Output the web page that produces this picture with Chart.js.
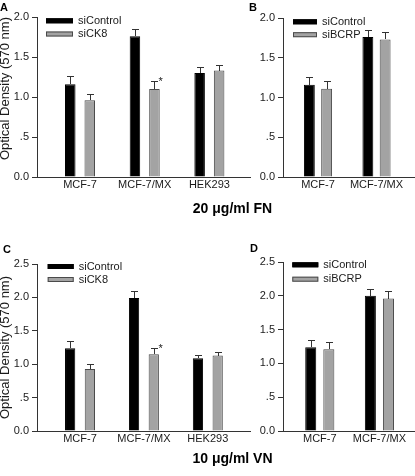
<!DOCTYPE html>
<html>
<head>
<meta charset="utf-8">
<script src="https://cdn.jsdelivr.net/npm/chart.js@4/dist/chart.umd.min.js"></script>
<style>
  html, body { margin: 0; padding: 0; background: #fff; }
  body { width: 415px; height: 476px; position: relative; overflow: hidden; font-family: "Liberation Sans", Arial, sans-serif; }
  canvas { position: absolute; }
  .lbl { position: absolute; font-weight: bold; color: #000; white-space: nowrap; }
  .letter { font-size: 11px; line-height: 11px; }
  .cond { font-size: 14px; line-height: 14px; width: 160px; text-align: center; }
</style>
</head>
<body>
<canvas id="cA" width="262" height="207" style="left:0;top:0;width:262px;height:207px"></canvas>
<canvas id="cB" width="165" height="207" style="left:250px;top:0;width:165px;height:207px"></canvas>
<canvas id="cC" width="262" height="231" style="left:0;top:230px;width:262px;height:231px"></canvas>
<canvas id="cD" width="165" height="231" style="left:250px;top:230px;width:165px;height:231px"></canvas>
<div class="lbl letter" style="left:0;top:1.6px">A</div>
<div class="lbl letter" style="left:249px;top:1.6px">B</div>
<div class="lbl letter" style="left:3px;top:243.6px">C</div>
<div class="lbl letter" style="left:250px;top:242.6px">D</div>
<div class="lbl cond" style="left:152.5px;top:201px">20 μg/ml FN</div>
<div class="lbl cond" style="left:152.5px;top:451px">10 μg/ml VN</div>
<script>
// ---------- data ----------
const cellLines3 = ['MCF-7', 'MCF-7/MX', 'HEK293'];
const cellLines2 = ['MCF-7', 'MCF-7/MX'];
const yTicksFN = ['0.0', '.5', '1.0', '1.5', '2.0'];
const yTicksVN = ['0.0', '.5', '1.0', '1.5', '2.0', '2.5'];
const yTitle = 'Optical Density (570 nm)';

// Panel A (20 ug/ml FN, siCK8)
const aControl = [1.16, 1.76, 1.30];
const aControlErr = [0.10, 0.09, 0.07];
const aCK8 = [0.96, 1.10, 1.33];
const aCK8Err = [0.08, 0.10, 0.07];
const aCK8Sig = ['', '*', ''];

// Panel B (20 ug/ml FN, siBCRP)
const bControl = [1.16, 1.76];
const bControlErr = [0.10, 0.09];
const bBCRP = [1.11, 1.73];
const bBCRPErr = [0.10, 0.09];

// Panel C (10 ug/ml VN, siCK8)
const cControl = [1.24, 1.99, 1.09];
const cControlErr = [0.10, 0.10, 0.05];
const cCK8 = [0.93, 1.15, 1.13];
const cCK8Err = [0.08, 0.10, 0.05];
const cCK8Sig = ['', '*', ''];

// Panel D (10 ug/ml VN, siBCRP)
const dControl = [1.24, 2.00];
const dControlErr = [0.10, 0.10];
const dBCRP = [1.21, 1.96];
const dBCRPErr = [0.10, 0.11];

// ---------- styling ----------
const FONT = '"Liberation Sans", Arial, sans-serif';
const BLACK = '#000000';
const GRAY = '#a3a3a3';
const GRAY_BORDER = '#4a4a4a';
const AXIS = '#333333';
const TEXT = '#1a1a1a';
Chart.defaults.font.family = FONT;
Chart.defaults.color = TEXT;

const errorBars = {
  id: 'errorBars',
  afterDatasetsDraw(chart) {
    const ctx = chart.ctx;
    const ys = chart.scales.y;
    chart.data.datasets.forEach((ds, di) => {
      const meta = chart.getDatasetMeta(di);
      meta.data.forEach((bar, i) => {
        const v = ds.data[i].y;
        const e = ds.errors[i];
        const yt = Math.round(ys.getPixelForValue(v + e)) + 0.5;
        const x = Math.round(bar.x) + 0.5;
        ctx.save();
        ctx.strokeStyle = '#333';
        ctx.lineWidth = 1;
        ctx.beginPath();
        ctx.moveTo(x, Math.round(bar.y));
        ctx.lineTo(x, yt);
        ctx.moveTo(x - 3.5, yt);
        ctx.lineTo(x + 3.5, yt);
        ctx.stroke();
        if (ds.sig && ds.sig[i]) {
          ctx.fillStyle = TEXT;
          ctx.font = '11px ' + FONT;
          ctx.textAlign = 'left';
          ctx.textBaseline = 'top';
          ctx.fillText(ds.sig[i], x + 4, yt - 5);
        }
        ctx.restore();
      });
    });
  }
};

const boxLegend = {
  id: 'boxLegend',
  afterDraw(chart, args, o) {
    const ctx = chart.ctx;
    const ca = chart.chartArea;
    chart.data.datasets.forEach((ds, i) => {
      const bx = ca.left + o.dx;
      const cy = ca.top + o.dy + i * o.row;
      ctx.save();
      ctx.fillStyle = ds.backgroundColor;
      ctx.fillRect(bx, cy - 2.5, o.boxW, 5);
      ctx.strokeStyle = ds.borderColor;
      ctx.lineWidth = 1;
      ctx.strokeRect(bx + 0.5, cy - 2, o.boxW - 1, 4);
      ctx.fillStyle = TEXT;
      ctx.font = '11px ' + FONT;
      ctx.textAlign = 'left';
      ctx.textBaseline = 'middle';
      ctx.fillText(ds.label, bx + o.boxW + 5, cy);
      ctx.restore();
    });
  }
};

function makeChart(id, cfg) {
  const pts = vals => vals.map((v, i) => ({ x: i, y: v }));
  const datasets = [
    { label: 'siControl', data: pts(cfg.ctrl), errors: cfg.ctrlErr, backgroundColor: BLACK, borderColor: BLACK, borderWidth: 1 },
    { label: cfg.kdLabel, data: pts(cfg.kd), errors: cfg.kdErr, sig: cfg.kdSig, backgroundColor: GRAY, borderColor: GRAY_BORDER, borderWidth: 1 }
  ];
  datasets.forEach(d => { d.categoryPercentage = cfg.catPct; d.barPercentage = cfg.barPct; });
  const yTitleOpts = cfg.showTitle
    ? { display: true, text: yTitle, align: cfg.titleAlign, color: TEXT, font: { size: 13, lineHeight: 1 }, padding: { top: -1.5, bottom: 0 } }
    : { display: false };
  return new Chart(document.getElementById(id), {
    type: 'bar',
    data: { datasets },
    plugins: [errorBars, boxLegend],
    options: {
      responsive: false,
      animation: false,
      events: [],
      layout: { padding: { left: 0, top: cfg.padTop, right: cfg.padRight, bottom: 0 } },
      plugins: {
        legend: { display: false },
        tooltip: { enabled: false },
        boxLegend: cfg.legend
      },
      scales: {
        x: {
          type: 'linear',
          min: cfg.xMin,
          max: cfg.xMax,
          offset: false,
          afterBuildTicks: axis => { axis.ticks = cfg.cats.map((c, i) => ({ value: i })); },
          afterFit: s => { s.height = 30; },
          ticks: {
            autoSkip: false, maxRotation: 0, padding: 1,
            color: TEXT, font: { size: 11 },
            callback: v => cfg.cats[v]
          },
          grid: { display: false, drawTicks: false, tickLength: 0 },
          border: { display: true, color: AXIS, width: 1 }
        },
        y: {
          min: 0,
          max: cfg.yMax,
          afterFit: s => { s.width = cfg.yWidth; },
          ticks: {
            stepSize: 0.5, padding: 3, color: TEXT, font: { size: 11 },
            callback: (v, i) => cfg.yTicks[i]
          },
          grid: { drawOnChartArea: false, drawTicks: true, tickLength: 5, color: AXIS },
          border: { display: true, color: AXIS, width: 1 },
          title: yTitleOpts
        }
      }
    }
  });
}

makeChart('cA', {
  cats: cellLines3, ctrl: aControl, ctrlErr: aControlErr, kd: aCK8, kdErr: aCK8Err, kdSig: aCK8Sig, kdLabel: 'siCK8',
  yMax: 2, yTicks: yTicksFN, showTitle: true, titleAlign: 'end',
  yWidth: 37, padTop: 17, padRight: 12,
  xMin: -0.665, xMax: 2.628, catPct: 0.603, barPct: 0.54,
  legend: { dx: 9, dy: 3.8, row: 13.2, boxW: 27 }
});
makeChart('cB', {
  cats: cellLines2, ctrl: bControl, ctrlErr: bControlErr, kd: bBCRP, kdErr: bBCRPErr, kdSig: null, kdLabel: 'siBCRP',
  yMax: 2, yTicks: yTicksFN, showTitle: false,
  yWidth: 33, padTop: 18, padRight: 0,
  xMin: -0.598, xMax: 1.658, catPct: 0.59, barPct: 0.63,
  legend: { dx: 10, dy: 3.8, row: 12.9, boxW: 24 }
});
makeChart('cC', {
  cats: cellLines3, ctrl: cControl, ctrlErr: cControlErr, kd: cCK8, kdErr: cCK8Err, kdSig: cCK8Sig, kdLabel: 'siCK8',
  yMax: 2.5, yTicks: yTicksVN, showTitle: true, titleAlign: 'center',
  yWidth: 37, padTop: 34, padRight: 12,
  xMin: -0.673, xMax: 2.66, catPct: 0.617, barPct: 0.52,
  legend: { dx: 10.7, dy: 2.5, row: 13, boxW: 26 }
});
makeChart('cD', {
  cats: cellLines2, ctrl: dControl, ctrlErr: dControlErr, kd: dBCRP, kdErr: dBCRPErr, kdSig: null, kdLabel: 'siBCRP',
  yMax: 2.5, yTicks: yTicksVN, showTitle: false,
  yWidth: 33, padTop: 32, padRight: 0,
  xMin: -0.617, xMax: 1.597, catPct: 0.607, barPct: 0.61,
  legend: { dx: 9.3, dy: 2.8, row: 14.4, boxW: 26 }
});
</script>
</body>
</html>
